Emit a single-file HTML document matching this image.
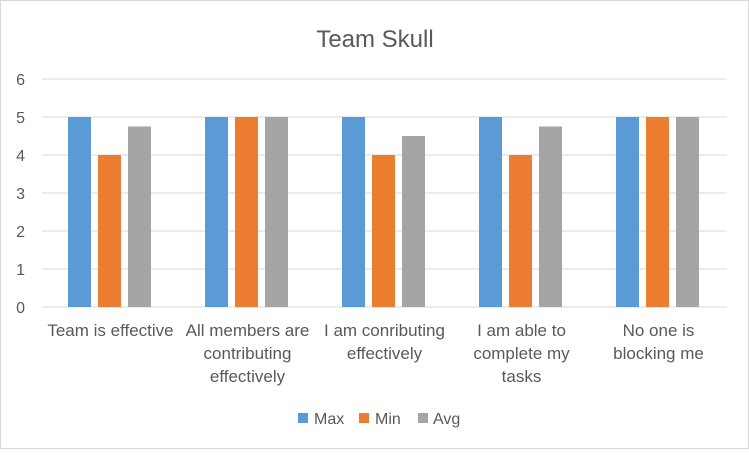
<!DOCTYPE html>
<html><head><meta charset="utf-8"><style>
body{margin:0;background:#fff;font-family:"Liberation Sans",sans-serif}
#c{position:absolute;left:0;top:0;width:747px;height:447px;border:1px solid #d9d9d9;background:#fff}
</style></head><body>
<div id="c">
<svg id="s" width="749" height="449" xmlns="http://www.w3.org/2000/svg" font-family="Liberation Sans, sans-serif">
<text x="374" y="46" text-anchor="middle" font-size="24" fill="#595959">Team Skull</text>
<g id="grid"></g><g id="bars"></g><g id="xl"></g>
<g>
<rect x="297" y="412" width="10" height="10" fill="#5b9bd5"/>
<text x="313" y="423" font-size="16" fill="#595959">Max</text>
<rect x="358" y="412" width="10" height="10" fill="#ed7d31"/>
<text x="374" y="423" font-size="16" fill="#595959">Min</text>
<rect x="417" y="412" width="10" height="10" fill="#a5a5a5"/>
<text x="432" y="423" font-size="16" fill="#595959">Avg</text>
</g>
</svg></div>
<script>
const categories=[["Team is effective"],["All members are","contributing","effectively"],["I am conributing","effectively"],["I am able to","complete my","tasks"],["No one is","blocking me"]];
const maxVals=[5,5,5,5,5];
const minVals=[4,5,4,4,5];
const avgVals=[4.75,5,4.5,4.75,5];
const yTicks=[0,1,2,3,4,5,6];
const NS="http://www.w3.org/2000/svg";
const L=41,R=726,T=78,B=306,ymax=6;
const y=v=>B-(B-T)*v/ymax;
const cw=(R-L)/categories.length;
const cx=i=>L+cw*(i+0.5);
function mk(t,a,p){const e=document.createElementNS(NS,t);for(const k in a)e.setAttribute(k,a[k]);p.appendChild(e);return e;}
const g=document.getElementById('grid');
yTicks.forEach(t=>{
 const ln=mk('line',{x1:L,x2:R,y1:y(t),y2:y(t),stroke:'#d9d9d9','stroke-width':1},g);
 
 
 const tx=mk('text',{x:24,y:y(t)+6,'text-anchor':'end','font-size':16,fill:'#595959'},g);
 tx.textContent=t;
 
 
});
const series=[[maxVals,'#5b9bd5','max'],[minVals,'#ed7d31','min'],[avgVals,'#a5a5a5','avg']];
const bw=23,gap=7;
const bg=document.getElementById('bars');
categories.forEach((c,i)=>{
 series.forEach((s,j)=>{
  const x=cx(i)-42.5+j*(bw+gap);
  const r=mk('rect',{x:x,y:y(s[0][i]),width:bw,height:B-y(s[0][i]),fill:s[1]},bg);
  
  
 });
 const xl=document.getElementById('xl');
 c.forEach((line,k)=>{
  const t=mk('text',{x:cx(i),y:335+k*23,'text-anchor':'middle','font-size':17,fill:'#595959'},xl);
  t.textContent=line;
  
  
 });
});
</script>
</body></html>
